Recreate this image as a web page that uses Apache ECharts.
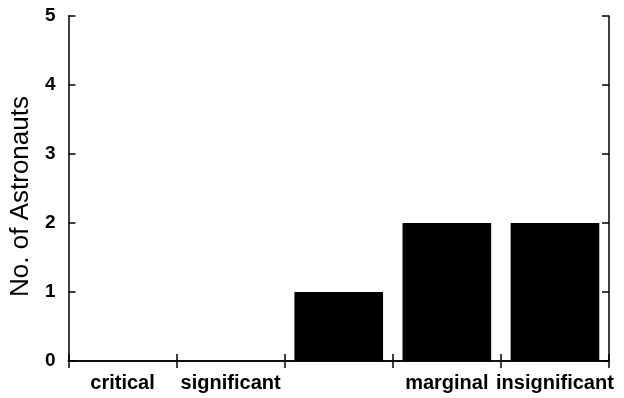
<!DOCTYPE html>
<html>
<head>
<meta charset="utf-8">
<script src="https://cdn.jsdelivr.net/npm/echarts@6/dist/echarts.min.js"></script>
<style>
  html, body { margin: 0; padding: 0; background: #fff; }
  #chart { width: 624px; height: 398px; }
</style>
</head>
<body>
<div id="chart"></div>
<script>
// severity categories (third label is blank in the original)
const categories = ["critical", "significant", "", "marginal", "insignificant"];
const astronauts = [0, 0, 1, 2, 2];
const yTicks = [0, 1, 2, 3, 4, 5];

const chart = echarts.init(document.getElementById("chart"));

const font = "'Liberation Sans', Arial, sans-serif";
const lineStyle = { color: "#000", width: 1.5 };
// ticks point into the plot
const tick = { show: true, inside: false, length: -7, lineStyle: lineStyle };

const option = {
  animation: false,
  grid: { left: 68, right: 15, top: 16, bottom: 37 },
  xAxis: [
    {
      type: "category",
      data: categories,
      position: "bottom",
      axisLine: { show: true, lineStyle: lineStyle },
      axisTick: tick,
      axisLabel: {
        interval: 0,
        color: "#000",
        fontFamily: font,
        fontSize: 20,
        fontWeight: "bold",
        margin: 12,
      },
    },
    {
      // top edge, ticks only
      type: "category",
      data: categories,
      position: "top",
      axisLine: { show: true, lineStyle: lineStyle },
      axisTick: tick,
      axisLabel: { show: false },
    },
  ],
  yAxis: [
    {
      type: "value",
      min: yTicks[0],
      max: yTicks[yTicks.length - 1],
      interval: 1,
      name: "No. of Astronauts",
      nameLocation: "middle",
      nameGap: 22,
      nameTextStyle: { color: "#000", fontFamily: font, fontSize: 26, padding: [0, 16, 0, 0] },
      axisLine: { show: true, lineStyle: lineStyle },
      axisTick: tick,
      axisLabel: { color: "#000", fontFamily: font, fontSize: 19, fontWeight: "bold", margin: 13 },
      splitLine: { show: false },
    },
    {
      // right edge, ticks only
      type: "value",
      position: "right",
      min: yTicks[0],
      max: yTicks[yTicks.length - 1],
      interval: 1,
      axisLine: { show: true, lineStyle: lineStyle },
      axisTick: tick,
      axisLabel: { show: false },
      splitLine: { show: false },
    },
  ],
  series: [
    {
      type: "bar",
      data: astronauts,
      barWidth: "82%",
      itemStyle: { color: "#000" },
    },
  ],
};

chart.setOption(option);
</script>
</body>
</html>
